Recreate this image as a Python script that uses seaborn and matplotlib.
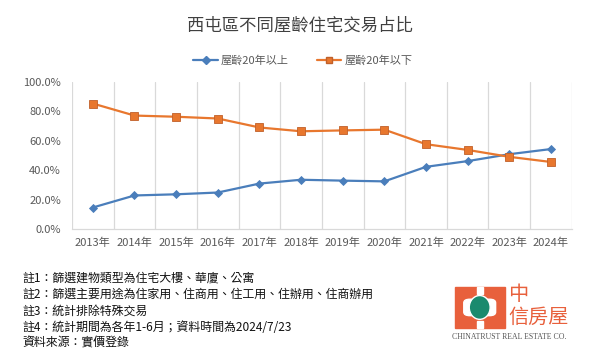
import matplotlib
matplotlib.use("Agg")
import matplotlib.pyplot as plt
import matplotlib.patches as mpatches
from matplotlib.lines import Line2D
import numpy as np
import pandas as pd
import seaborn as sns

years = ["2013年", "2014年", "2015年", "2016年", "2017年", "2018年",
         "2019年", "2020年", "2021年", "2022年", "2023年", "2024年"]
over20 = [14.6, 22.8, 23.6, 24.8, 30.9, 33.5, 32.9, 32.4, 42.3, 46.2, 50.9, 54.4]
under20 = [85.4, 77.2, 76.4, 75.2, 69.1, 66.5, 67.1, 67.6, 57.7, 53.8, 49.1, 45.6]
series_names = ["屋齡20年以上", "屋齡20年以下"]
yticks = [0, 20, 40, 60, 80, 100]
notes = ["註1：篩選建物類型為住宅大樓、華廈、公寓",
         "註2：篩選主要用途為住家用、住商用、住工用、住辦用、住商辦用",
         "註3：統計排除特殊交易",
         "註4：統計期間為各年1-6月；資料時間為2024/7/23",
         "資料來源：實價登錄"]

sns.set_theme(style="white")
plt.rcParams['font.family'] = ['Noto Sans CJK TC', 'DejaVu Sans']

df = pd.DataFrame({
    "x": list(range(len(years))) * 2,
    "value": over20 + under20,
    "series": [series_names[0]] * len(years) + [series_names[1]] * len(years),
})

fig = plt.figure(figsize=(6, 3.6), dpi=100)
ax = fig.add_axes([0.12, 0.364, 0.833, 0.408])

blue = "#4a7ebb"
orange = "#e8772e"
palette = {series_names[0]: blue, series_names[1]: orange}
markers = {series_names[0]: "D", series_names[1]: "s"}
sns.lineplot(data=df, x="x", y="value", hue="series", style="series",
             palette=palette, markers=markers, dashes=False, ax=ax,
             linewidth=1.6, markersize=5.5, legend=False)
for line, ec in zip(ax.lines, [blue, "#c0602a"]):
    line.set_markeredgecolor(ec)
    line.set_markeredgewidth(0.6)
ax.lines[0].set_markersize(4.5)

ax.set_xlim(-0.5, len(years) - 0.5)
ax.set_ylim(0, 100)
ax.set_yticks(yticks)
ax.set_yticklabels([f"{v:.1f}%" for v in yticks], fontsize=8, color="#595959")
ax.set_xticks(range(len(years)))
ax.set_xticklabels(years, fontsize=8, color="#595959")
ax.tick_params(axis="y", length=0, pad=8)
ax.tick_params(axis="x", length=0, pad=6)
ax.set_xticks(np.arange(-0.5, len(years), 1), minor=True)
ax.grid(False)
ax.grid(True, which="minor", axis="x", color="#d9d9d9", linewidth=0.9)
ax.tick_params(which="minor", length=0)
ax.set_xlabel("")
ax.set_ylabel("")
for s in ["top", "right", "left"]:
    ax.spines[s].set_visible(False)
ax.spines["bottom"].set_color("#d9d9d9")
ax.spines["bottom"].set_linewidth(0.9)

fig.text(0.5, 0.928, "西屯區不同屋齡住宅交易占比", ha="center", va="center",
         fontsize=12.5, color="#404040")

handles = [Line2D([0], [0], color=blue, marker="D", markersize=4, lw=1.6),
           Line2D([0], [0], color=orange, marker="s", markersize=5,
                  markeredgecolor="#c0602a", lw=1.6)]
fig.legend(handles, series_names, loc="center", bbox_to_anchor=(0.505, 0.833),
           ncol=2, frameon=False, fontsize=8, handlelength=2.2, columnspacing=2.5,
           labelcolor="#595959", handletextpad=0.3)

for i, t in enumerate(notes):
    fig.text(0.037, 0.228 - i * 0.0455, t, ha="left", va="center", fontsize=8.6,
             color="#111111")

# logo
lo = "#e8603c"
x0, y0, w, h = 0.758, 0.089, 0.083, 0.114
fig.patches.append(mpatches.Rectangle((x0, y0), w, h,
                                      transform=fig.transFigure, color=lo))
fig.patches.append(mpatches.Rectangle((x0 + w * 0.44, y0 + h * 0.82), w * 0.12, h * 0.18,
                                      transform=fig.transFigure, color="white"))
fig.patches.append(mpatches.Rectangle((x0 + w * 0.44, y0), w * 0.12, h * 0.18,
                                      transform=fig.transFigure, color="white"))
fig.patches.append(mpatches.FancyBboxPatch((x0 + w * 0.18, y0 + h * 0.3), w * 0.64, h * 0.4,
                                           boxstyle="round,pad=0.0,rounding_size=0.01",
                                           transform=fig.transFigure, color="white"))
fig.patches.append(mpatches.Ellipse((x0 + w * 0.5, y0 + h * 0.5), w * 0.42, h * 0.58,
                                    transform=fig.transFigure, facecolor="#1a8a6e",
                                    edgecolor="white", lw=1))
fig.text(0.847, 0.181, "中", fontsize=14.5, color=lo, ha="left", va="center")
fig.text(0.847, 0.118, "信房屋", fontsize=14.5, color=lo, ha="left", va="center")
fig.text(0.754, 0.064, "CHINATRUST REAL ESTATE CO.", fontsize=5.6, color="#555555",
         ha="left", va="center", family=["Liberation Serif"])

fig.savefig("out.png", dpi=100, facecolor="white")
